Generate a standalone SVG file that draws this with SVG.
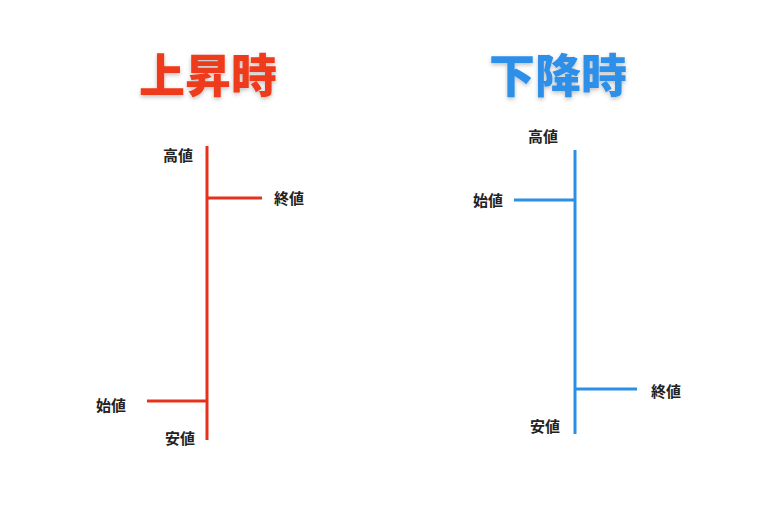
<svg xmlns="http://www.w3.org/2000/svg" width="768" height="509" viewBox="0 0 768 509">
<defs><filter id="sh" x="-10%" y="-20%" width="120%" height="150%"><feDropShadow dx="0" dy="2" stdDeviation="2" flood-color="#000" flood-opacity="0.25"/></filter></defs>
<style>
.t{font-family:"Noto Sans CJK JP",sans-serif;font-weight:900;font-size:46px;text-anchor:middle;filter:url(#sh)}
.l{font-family:"Noto Sans CJK JP",sans-serif;font-weight:700;font-size:15px;fill:#222}
.r{stroke:#e5321c;stroke-width:3;fill:none}
.b{stroke:#2a8fe6;stroke-width:3;fill:none}
</style>
<rect width="768" height="509" fill="#fff"/>
<text class="t" x="208" y="92" fill="#ee3a1e">上昇時</text>
<text class="t" x="558" y="92" fill="#2f8fe8">下降時</text>
<g id="connectors">
<line class="r" x1="207" y1="146" x2="207" y2="440"/>
<line class="r" x1="207" y1="198" x2="262" y2="198"/>
<line class="r" x1="147" y1="401" x2="207" y2="401"/>
<line class="b" x1="575" y1="150" x2="575" y2="434"/>
<line class="b" x1="514" y1="200" x2="575" y2="200"/>
<line class="b" x1="575" y1="389" x2="637" y2="389"/>
</g>
<g id="up-high"><text class="l" x="163" y="161">高値</text></g>
<g id="up-close"><text class="l" x="274" y="204">終値</text></g>
<g id="up-open"><text class="l" x="96" y="411">始値</text></g>
<g id="up-low"><text class="l" x="165" y="444">安値</text></g>
<g id="down-high"><text class="l" x="528" y="142">高値</text></g>
<g id="down-open"><text class="l" x="473" y="206">始値</text></g>
<g id="down-close"><text class="l" x="651" y="397">終値</text></g>
<g id="down-low"><text class="l" x="530" y="432">安値</text></g>
</svg>
